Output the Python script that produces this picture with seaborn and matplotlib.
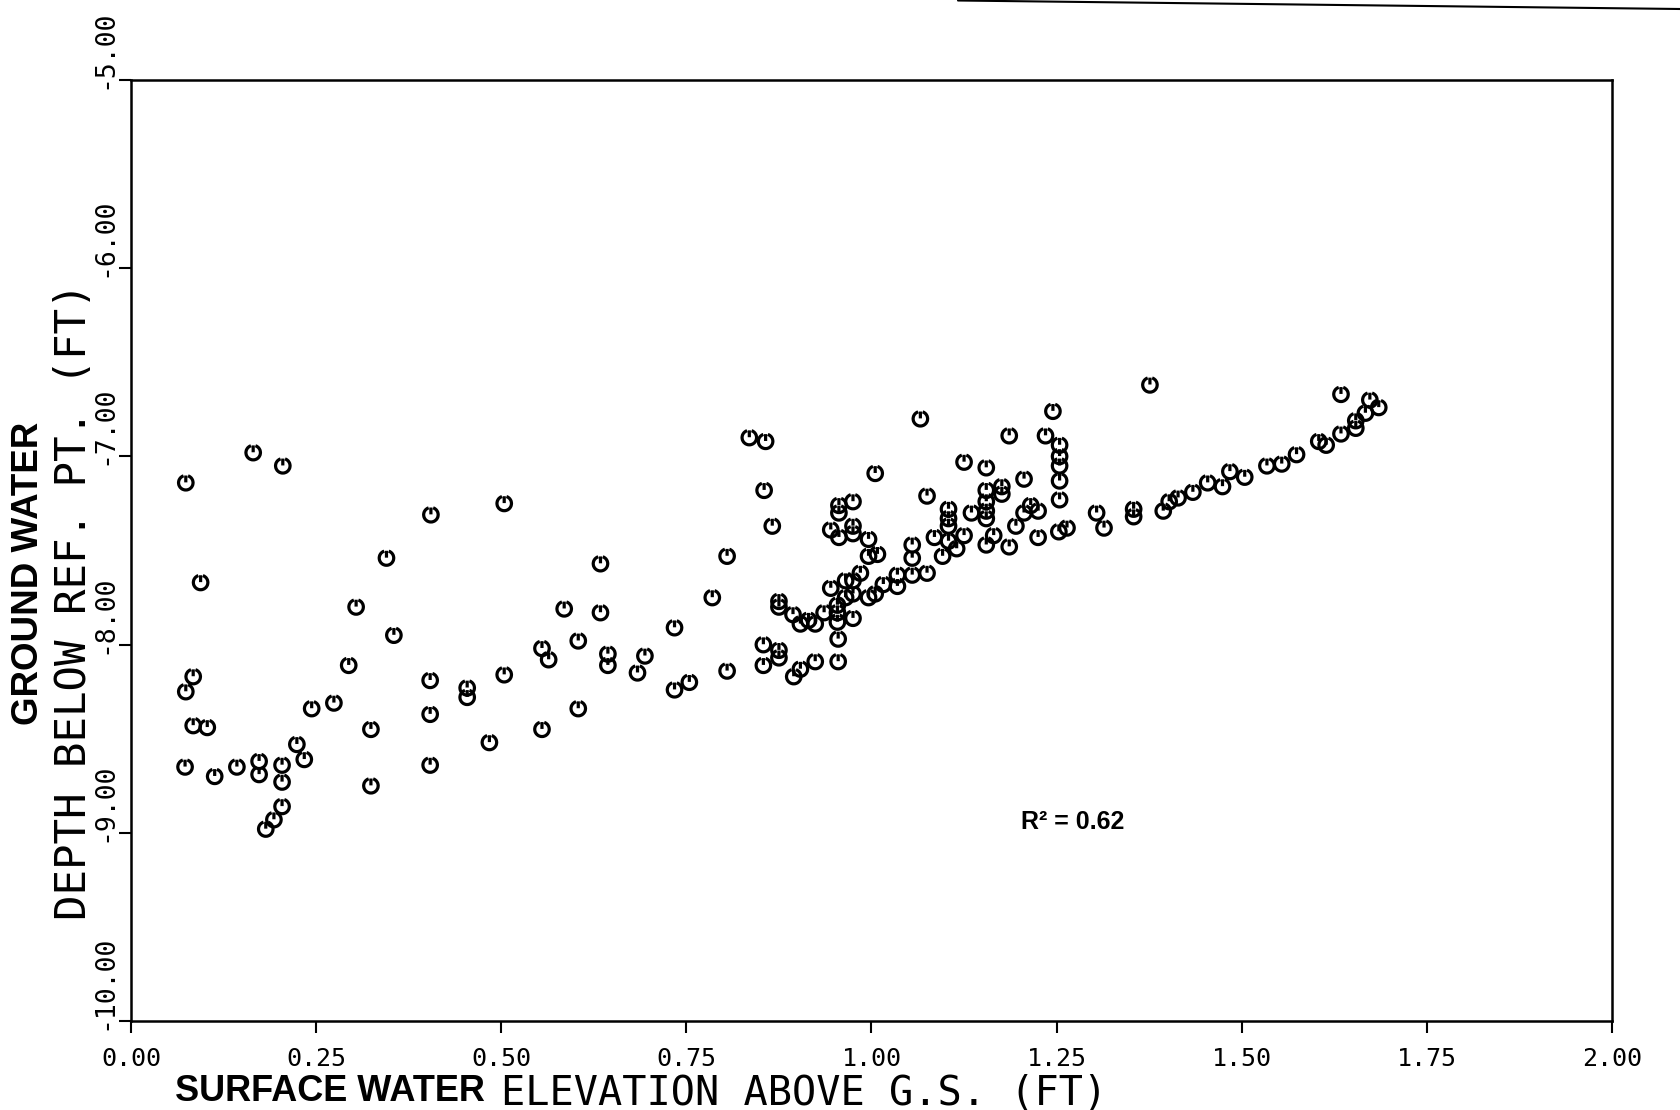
import numpy as np
import pandas as pd
import matplotlib
matplotlib.use("Agg")
import matplotlib.pyplot as plt
import matplotlib.transforms as mtransforms
from matplotlib.path import Path
from matplotlib.lines import Line2D
import seaborn as sns

# Surface water elevation above ground surface (ft)
surface_ft = [
    0.165, 0.205, 0.074, 0.504, 0.405, 0.345, 0.094, 0.634, 0.304, 0.585,
    0.634, 0.734, 0.355, 0.604, 0.555, 0.564, 0.644, 0.644, 0.694, 0.294,
    0.684, 0.734, 0.084, 0.074, 0.404, 0.454, 0.454, 0.504, 0.244, 0.274,
    0.404, 0.604, 0.324, 0.555, 0.484, 0.084, 0.103, 0.224, 0.234, 0.073,
    0.113, 0.143, 0.173, 0.173, 0.204, 0.204, 0.404, 0.324, 0.204, 0.193,
    0.182,
    1.376, 1.245, 1.066, 0.835, 0.857, 1.186, 1.235, 1.254, 1.254, 1.254,
    1.254, 1.254, 1.125, 1.155, 1.005, 1.206, 0.855, 1.075, 1.155, 1.176,
    1.176, 1.155, 1.155, 1.155, 0.975, 0.956, 0.956, 1.104, 1.104, 1.104,
    1.135, 1.215, 1.206, 1.225, 1.195, 1.304, 1.354, 1.354, 1.314, 1.264,
    1.253, 1.225, 1.165, 1.155, 1.186, 1.125, 1.104, 1.115, 1.096, 1.085,
    1.055, 1.055, 0.866, 0.945, 0.956, 0.975, 0.975, 0.996, 0.996, 1.008,
    0.805, 1.075, 1.055, 1.035, 1.035, 1.016, 1.005, 0.996, 0.985, 0.975,
    0.965, 0.945, 0.975, 0.965, 0.785, 0.875, 0.875, 0.894, 0.904, 0.915,
    0.924, 0.936, 0.954, 0.954, 0.954, 0.975, 0.955, 0.854, 0.854, 0.875,
    0.875, 0.895, 0.904, 0.924, 0.955, 0.805, 0.754,
    1.634, 1.673, 1.685, 1.667, 1.654, 1.654, 1.634, 1.604, 1.614, 1.574,
    1.554, 1.534, 1.504, 1.484, 1.474, 1.454, 1.434, 1.414, 1.402, 1.394,
]

# Ground water depth below reference point (ft)
depth_ft = [
    -6.98, -7.05, -7.14, -7.25, -7.31, -7.54, -7.67, -7.57, -7.80, -7.81,
    -7.83, -7.91, -7.95, -7.98, -8.02, -8.08, -8.05, -8.11, -8.06, -8.11,
    -8.15, -8.24, -8.17, -8.25, -8.19, -8.23, -8.28, -8.16, -8.34, -8.31,
    -8.37, -8.34, -8.45, -8.45, -8.52, -8.43, -8.44, -8.53, -8.61, -8.65,
    -8.70, -8.65, -8.62, -8.69, -8.64, -8.73, -8.64, -8.75, -8.86, -8.93,
    -8.98,
    -6.62, -6.76, -6.80, -6.90, -6.92, -6.89, -6.89, -6.94, -7.00, -7.05,
    -7.13, -7.23, -7.03, -7.06, -7.09, -7.12, -7.18, -7.21, -7.18, -7.16,
    -7.20, -7.24, -7.29, -7.33, -7.24, -7.26, -7.30, -7.28, -7.33, -7.37,
    -7.30, -7.26, -7.30, -7.29, -7.37, -7.30, -7.28, -7.32, -7.38, -7.38,
    -7.40, -7.43, -7.42, -7.47, -7.48, -7.42, -7.45, -7.49, -7.53, -7.43,
    -7.47, -7.54, -7.37, -7.39, -7.43, -7.37, -7.41, -7.44, -7.53, -7.52,
    -7.53, -7.62, -7.63, -7.63, -7.69, -7.68, -7.73, -7.75, -7.62, -7.66,
    -7.66, -7.70, -7.73, -7.75, -7.75, -7.77, -7.80, -7.84, -7.89, -7.87,
    -7.89, -7.83, -7.79, -7.83, -7.88, -7.86, -7.97, -8.00, -8.11, -8.03,
    -8.07, -8.17, -8.13, -8.09, -8.09, -8.14, -8.20,
    -6.67, -6.70, -6.74, -6.77, -6.81, -6.85, -6.88, -6.92, -6.94, -6.99,
    -7.04, -7.05, -7.11, -7.08, -7.16, -7.14, -7.19, -7.22, -7.24, -7.29,
]

x_ticks = [0.00, 0.25, 0.50, 0.75, 1.00, 1.25, 1.50, 1.75, 2.00]
y_ticks = [-10.0, -9.0, -8.0, -7.0, -6.0, -5.0]
r2_label = "R² = 0.62"
r2_pos = (1.272, -8.94)

sns.set_style("ticks")
plt.rcParams["font.family"] = ["DejaVu Sans Mono", "DejaVu Sans"]
plt.rcParams["axes.edgecolor"] = "black"
plt.rcParams["xtick.color"] = "black"
plt.rcParams["ytick.color"] = "black"
plt.rcParams["text.color"] = "black"

W, H = 1680, 1110
fig = plt.figure(figsize=(W / 100, H / 100), dpi=100)
fig.patch.set_facecolor("white")
ax = fig.add_axes([131 / W, 1 - 1021 / H, 1481 / W, 941 / H])

# Plotter "G" symbol: open ring with a short stem dropping from the top
arc = Path.arc(108, 432)
verts = np.vstack([arc.vertices, [[0.0, 1.0], [0.0, 0.05]]])
codes = np.concatenate([arc.codes, [Path.MOVETO, Path.LINETO]])
g_symbol = Path(verts, codes)

df = pd.DataFrame({"surface": surface_ft, "depth": depth_ft})
sns.scatterplot(data=df, x="surface", y="depth", ax=ax, marker=g_symbol,
                s=110, facecolors="none", edgecolor="black", linewidth=2.3,
                legend=False, zorder=3)

ax.set_xlim(0, 2)
ax.set_ylim(-10, -5)
ax.set_xticks(x_ticks)
ax.set_xticklabels([f"{t:.2f}" for t in x_ticks])
ax.set_yticks(y_ticks)
ax.set_yticklabels([f"{t:.2f}" for t in y_ticks], rotation=90, va="bottom")
ax.tick_params(direction="out", length=8.5, width=1.5, labelsize=18)
ax.tick_params(axis="x", pad=10)
ax.tick_params(axis="y", pad=1, labelsize=19)

# Vertical tick labels start just below their tick and run upward
shift_down = mtransforms.ScaledTranslation(0, -9 / 100, fig.dpi_scale_trans)
for lab in ax.get_yticklabels():
    lab.set_transform(lab.get_transform() + shift_down)

for spine in ax.spines.values():
    spine.set_visible(True)
    spine.set_linewidth(1.8)
    spine.set_color("black")
ax.set_xlabel("")
ax.set_ylabel("")

ax.text(r2_pos[0], r2_pos[1], r2_label, ha="center", va="center",
        fontsize=18, fontweight="bold", family=["Liberation Sans", "DejaVu Sans"])

# Axis titles: bold keyword followed by plotter-style description
fig.text(29 / W, 1 - 573 / H, "GROUND WATER", rotation=90, ha="center", va="center",
         fontsize=26.5, fontweight="bold", family=["Liberation Sans", "DejaVu Sans"])
fig.text(74 / W, 1 - 601 / H, "DEPTH BELOW REF. PT. (FT)", rotation=90,
         ha="center", va="center", fontsize=30.5)
fig.text(175 / W, 1 - 1101 / H, "SURFACE WATER", ha="left", va="baseline",
         fontsize=26, fontweight="bold", family=["Liberation Sans", "DejaVu Sans"])
fig.text(501 / W, 1 - 1104 / H, "ELEVATION ABOVE G.S. (FT)", ha="left",
         va="baseline", fontsize=29)

# Rule running across the top edge of the sheet
fig.add_artist(Line2D([958 / W, 1.0], [1 - 0.5 / H, 1 - 9 / H],
                      transform=fig.transFigure, color="black", lw=1.5))

fig.savefig("out.png", dpi=100, facecolor="white")
